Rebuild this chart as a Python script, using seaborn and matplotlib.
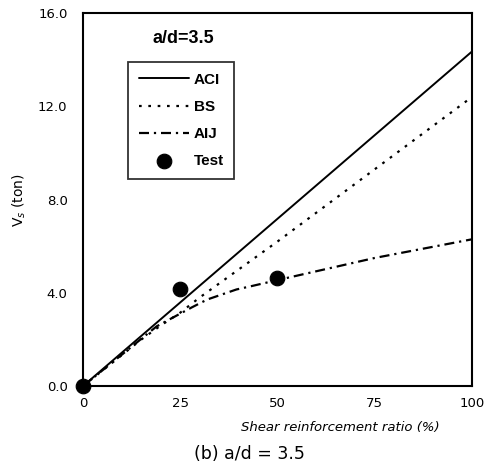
import matplotlib
matplotlib.use("Agg")
import matplotlib.pyplot as plt
import seaborn as sns
import numpy as np

# data
aci_x = [0, 100]
aci_y = [0.0, 14.35]
bs_x = [0, 15, 20, 25, 30, 40, 50, 75, 100]
bs_y = [0.0, 2.0, 2.6, 3.15, 3.8, 5.0, 6.2, 9.3, 12.4]
aij_x = [0, 10, 19, 28, 32, 39.5, 43, 50, 75, 100]
aij_y = [0.0, 1.35, 2.57, 3.38, 3.72, 4.15, 4.28, 4.55, 5.5, 6.3]
test_x = [0, 25, 50]
test_y = [0.0, 4.15, 4.65]
x_ticks = [0, 25, 50, 75, 100]
y_ticks = [0.0, 4.0, 8.0, 12.0, 16.0]

sns.set_style("white")
plt.rcParams['font.family'] = ['DejaVu Sans']
plt.rcParams['text.color'] = 'black'
plt.rcParams['axes.labelcolor'] = 'black'
plt.rcParams['xtick.color'] = 'black'
plt.rcParams['ytick.color'] = 'black'

fig = plt.figure(figsize=(4.93, 4.71), dpi=100)
ax = fig.add_axes([0.168, 0.180, 0.789, 0.792])

sns.lineplot(x=aci_x, y=aci_y, ax=ax, color='black', lw=1.4, label='ACI')
sns.lineplot(x=bs_x, y=bs_y, ax=ax, color='black', lw=1.6, linestyle=(0, (1.2, 3.0)), label='BS')
sns.lineplot(x=aij_x, y=aij_y, ax=ax, color='black', lw=1.6, linestyle=(0, (4.5, 2.2, 1.0, 2.2)), label='AIJ')
sns.scatterplot(x=test_x, y=test_y, ax=ax, color='black', s=110, edgecolor='black',
                zorder=5, clip_on=False, label='Test')

ax.set_xlim(0, 100)
ax.set_ylim(0, 16)
ax.set_xticks(x_ticks)
ax.set_xticklabels([str(v) for v in x_ticks])
ax.set_yticks(y_ticks)
ax.set_yticklabels([f"{v:.1f}" for v in y_ticks])
ax.tick_params(axis='both', labelsize=9.5, direction='in', length=3, width=0.8,
               colors='black', labelcolor='black')
ax.tick_params(axis='x', pad=8)
ax.tick_params(axis='y', pad=11)
for sp in ax.spines.values():
    sp.set_color('black')
    sp.set_linewidth(1.5)

ax.set_xlabel("Shear reinforcement ratio (%)", fontsize=9.5, style='italic', color='black')
ax.xaxis.label.set_va('center')
ax.xaxis.set_label_coords(0.663, -0.11)
ax.set_ylabel("V$_s$ (ton)", fontsize=10, color='black')
ax.yaxis.set_label_coords(-0.141, 0.5)

ax.text(0.18, 0.933, "a/d=3.5", transform=ax.transAxes, fontsize=13, fontweight='bold',
        va='center', family='Liberation Sans', color='black')

leg = ax.legend(loc='upper left', bbox_to_anchor=(0.116, 0.869), borderaxespad=0, frameon=True,
                fancybox=False, edgecolor='black', handlelength=3.27, handletextpad=0.33,
                labelspacing=0.86, borderpad=0.7,
                prop={'weight': 'bold', 'size': 11, 'family': 'Liberation Sans'})
for t in leg.get_texts():
    t.set_color('black')
leg.get_frame().set_linewidth(1.3)

fig.text(0.505, 0.036, "(b) a/d = 3.5", fontsize=12.5, ha='center', va='center', color='black')

fig.savefig("out.png", dpi=100)
